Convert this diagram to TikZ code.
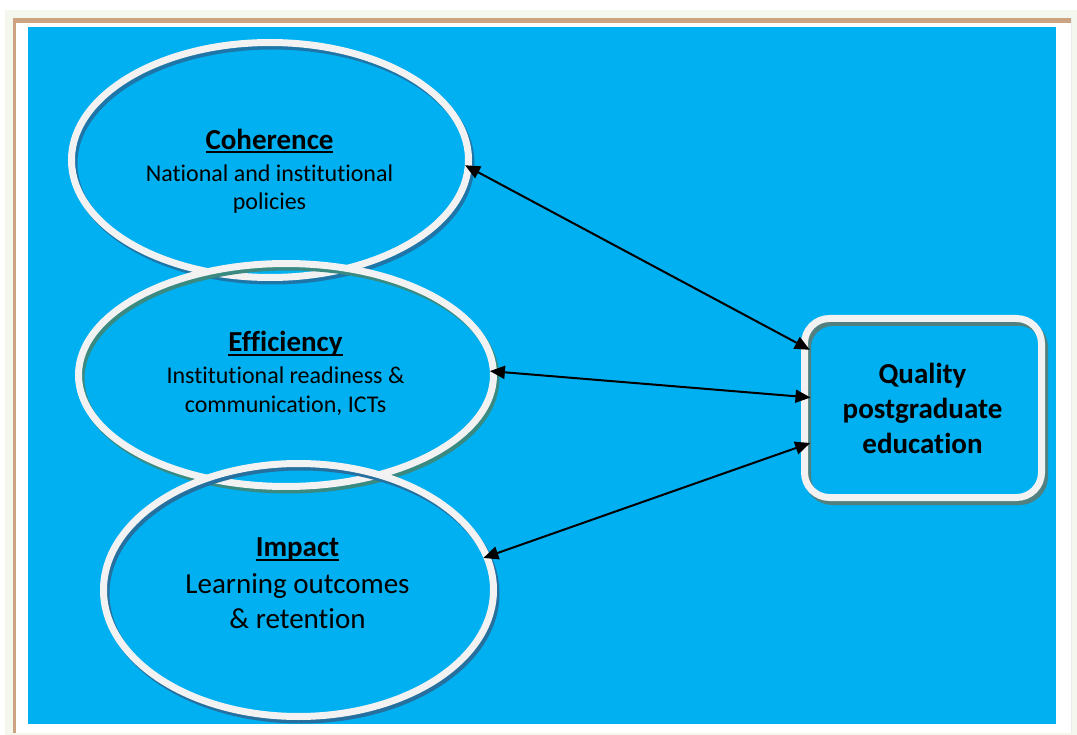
\documentclass[tikz,border=0pt]{standalone}
\usepackage{fontspec}
\setmainfont{Carlito}[Ligatures={NoCommon}]
\usetikzlibrary{arrows.meta,shapes.geometric}

\definecolor{pagebg}{RGB}{243,247,238}
\definecolor{framebrown}{RGB}{204,164,130}
\definecolor{sky}{RGB}{0,176,240}
\definecolor{rim}{RGB}{242,242,242}
\definecolor{shcoh}{RGB}{30,118,168}
\definecolor{sheff}{RGB}{58,138,130}
\definecolor{shimp}{RGB}{38,112,160}
\definecolor{shbox}{RGB}{80,128,128}

% underline at a fixed depth below the baseline, crossing descenders
\newcommand{\ulword}[1]{\setbox0\hbox{#1}\rlap{\rule[-4pt]{\wd0}{2pt}}\box0}

\tikzset{
  oval/.style={ellipse, draw=rim, line width=7pt, inner sep=0pt, outer sep=0pt},
  ovalshadow/.style={draw=#1, line width=7pt},
  card/.style={rectangle, draw=rim, line width=7pt, rounded corners=25pt,
               inner sep=0pt, outer sep=0pt},
  ttl/.style={font=\fontsize{29}{35}\selectfont\bfseries, anchor=base, inner sep=0pt},
  sub/.style={font=\fontsize{24}{29}\selectfont, anchor=base, inner sep=0pt},
  big/.style={font=\fontsize{29}{35}\selectfont, anchor=base, inner sep=0pt},
  link/.style={line width=2pt,
               {Triangle[length=15pt,width=13pt]}-{Triangle[length=15pt,width=13pt]},
               shorten <=-3.5pt, shorten >=-6pt}
}

\begin{document}
\begin{tikzpicture}[x=1pt,y=-1pt]
\useasboundingbox (0,0) rectangle (1077,735);

% page and frame
\fill[white] (0,0) rectangle (1077,735);
\fill[pagebg] (5,10) rectangle (1077,735);
\fill[white] (13,18) rectangle (1071,733);
\draw[line width=0.8pt, black!8] (1071.5,18) -- (1071.5,733);
\fill[framebrown] (13,18) rectangle (1071,23);
\fill[framebrown] (13,18) rectangle (16,733);
\fill[sky] (28,27) rectangle (1056,724);

% Coherence
\draw[ovalshadow=shcoh] (272.5,163.5) ellipse [x radius=198.5pt, y radius=117.5pt];
\node[oval, minimum width=397pt, minimum height=235pt] (coh) at (270,160) {};

% Efficiency
\draw[ovalshadow=sheff] (288.5,378.5) ellipse [x radius=207.5pt, y radius=111.5pt];
\node[oval, minimum width=415pt, minimum height=223pt] (eff) at (286,375) {};

% Impact
\draw[ovalshadow=shimp] (301,593.5) ellipse [x radius=195pt, y radius=126.5pt];
\node[oval, minimum width=390pt, minimum height=253pt] (imp) at (298.5,590) {};

% Outcome box
\draw[draw=shbox, line width=7pt, rounded corners=25pt] (807.5,322.5) rectangle (1044.5,501.5);
\node[card, minimum width=237pt, minimum height=179pt] (box) at (923,408) {};

% texts
\node[ttl] (cohT) at (269.5,149.3) {\ulword{Coherence}};
\node[sub] (coh1) at (269.5,181.7) {National and institutional};
\node[sub] (coh2) at (269.5,209.5) {policies};

\node[ttl] (effT) at (285.5,352) {\ulword{Efficiency}};
\node[sub] (eff1) at (285.5,384) {Institutional readiness \&};
\node[sub] (eff2) at (285.5,412.7) {communication, ICTs};

\node[ttl] (impT) at (297.5,556.7) {\ulword{Impact}};
\node[big] (imp1) at (297.5,593.3) {Learning outcomes};
\node[big] (imp2) at (297.5,628.3) {\& retention};

\node[ttl] (box1) at (922.5,383.3) {Quality};
\node[ttl] (box2) at (922.5,418.3) {postgraduate};
\node[ttl] (box3) at (922.5,453.3) {education};

% two-way links
\draw[link] (coh.-2) -- ([yshift=61pt]box.west);
\draw[link] (eff.1) -- ([yshift=11pt]box.west);
\draw[link] (imp.10) -- ([yshift=-37pt]box.west);
\end{tikzpicture}
\end{document}
